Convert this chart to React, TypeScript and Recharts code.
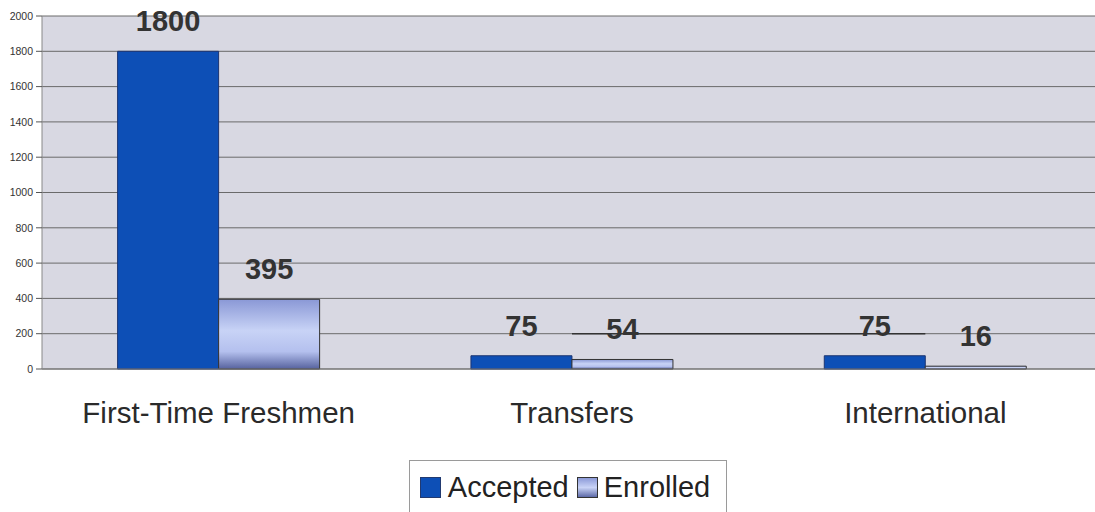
import React from 'react';
import {
  BarChart,
  Bar,
  XAxis,
  YAxis,
  CartesianGrid,
  Legend,
  LabelList,
  ReferenceLine
} from 'recharts';

const categories = ['First-Time Freshmen', 'Transfers', 'International'];
const accepted = [1800, 75, 75];
const enrolled = [395, 54, 16];
const yTicks = [0, 200, 400, 600, 800, 1000, 1200, 1400, 1600, 1800, 2000];

const data = categories.map((name, i) => ({
  name,
  accepted: accepted[i],
  enrolled: enrolled[i]
}));

const FONT = 'Arial, "Liberation Sans", Helvetica, sans-serif';

// legend drawn as the boxed Excel style key
const LegendBox = () => (
  <div style={{ display: 'flex', justifyContent: 'center', paddingLeft: 34 }}>
    <div
      style={{
        display: 'flex',
        alignItems: 'center',
        border: '1px solid #9a9a9a',
        padding: '11px 16px 25px 10px',
        fontFamily: FONT,
        fontSize: 29,
        lineHeight: '30px',
        color: '#222'
      }}
    >
      <span style={{ width: 19, height: 19, background: '#0d4fb6', border: '1px solid #223a70', display: 'inline-block', marginRight: 7 }} />
      <span style={{ marginRight: 8 }}>Accepted</span>
      <span
        style={{
          width: 19,
          height: 19,
          background: 'linear-gradient(#8c9ad8, #c9d3f6 50%, #5d6aa8)',
          border: '1px solid #333',
          display: 'inline-block',
          marginRight: 6
        }}
      />
      <span>Enrolled</span>
    </div>
  </div>
);

export default function App() {
  return (
    <div style={{ position: 'absolute', left: 0, top: 0, width: 1095, height: 512, overflow: 'hidden', background: '#fff' }}>
      <BarChart
        width={1110}
        height={512}
        data={data}
        margin={{ top: 16, right: 8, bottom: 0, left: 0 }}
        barCategoryGap="21.4%"
        barGap={0}
      >
        <defs>
          <linearGradient id="enrolledFill" x1="0" y1="0" x2="0" y2="1">
            <stop offset="0%" stopColor="#8a98d6" />
            <stop offset="45%" stopColor="#c8d3f6" />
            <stop offset="75%" stopColor="#b4c0ee" />
            <stop offset="100%" stopColor="#56629e" />
          </linearGradient>
        </defs>
        <CartesianGrid vertical={false} stroke="#6a6a6a" fill="#d8d8e2" />
        <XAxis
          dataKey="name"
          height={91}
          tickLine={false}
          axisLine={{ stroke: '#777' }}
          tickMargin={27}
          tick={{ fill: '#2a2a2a', fontSize: 29.5, fontFamily: FONT }}
        />
        <YAxis
          width={42}
          domain={[0, 2000]}
          ticks={yTicks}
          interval={0}
          tickSize={6}
          tickMargin={3}
          axisLine={{ stroke: '#888' }}
          tickLine={{ stroke: '#555' }}
          tick={{ fill: '#333', fontSize: 10.5, fontFamily: FONT }}
        />
        <ReferenceLine
          segment={[{ x: 'Transfers', y: 200 }, { x: 'International', y: 200 }]}
          stroke="#333"
          strokeWidth={1.5}
        />
        <Bar dataKey="accepted" name="Accepted" fill="#0d4fb6" stroke="#1c3470" strokeWidth={1} isAnimationActive={false}>
          <LabelList
            dataKey="accepted"
            position="top"
            offset={20}
            fill="#333"
            fontSize={29}
            fontWeight="bold"
            fontFamily={FONT}
          />
        </Bar>
        <Bar dataKey="enrolled" name="Enrolled" fill="url(#enrolledFill)" stroke="#333" strokeWidth={1} isAnimationActive={false}>
          <LabelList
            dataKey="enrolled"
            position="top"
            offset={20}
            fill="#333"
            fontSize={29}
            fontWeight="bold"
            fontFamily={FONT}
          />
        </Bar>
        <Legend verticalAlign="bottom" height={52} content={() => <LegendBox />} />
      </BarChart>
    </div>
  );
}
